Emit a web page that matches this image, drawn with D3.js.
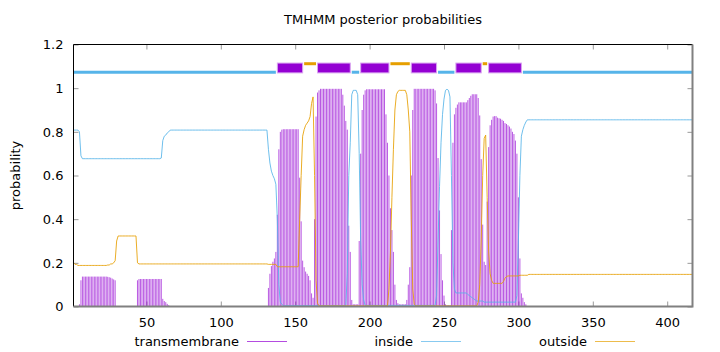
<!DOCTYPE html>
<html>
<head>
<meta charset="utf-8">
<script src="https://cdn.jsdelivr.net/npm/d3@7"></script>
<style>
  html, body { margin: 0; padding: 0; background: #fff; }
  svg { display: block; font-family: "DejaVu Sans", sans-serif; }
</style>
</head>
<body>
<div id="chart"></div>
<script>
// Posterior probabilities, stored as runs [fromResidue, toResidue, value]
const seqLength = 417;

const tmRuns = [
  [1,4,0],[5,5,0.01],[6,6,0.12],[7,23,0.137],[24,24,0.136],[25,25,0.134],[26,26,0.132],[27,27,0.128],
  [28,28,0.124],[29,29,0.12],[30,43,0],[44,44,0.12],[45,60,0.126],[61,61,0.035],[62,62,0.025],
  [63,63,0.02],[64,64,0.012],[65,65,0.006],[66,131,0],[132,132,0.085],[133,133,0.15],[134,134,0.185],
  [135,135,0.205],[136,136,0.22],[137,137,0.25],[138,138,0.42],[139,139,0.72],[140,140,0.8],
  [141,141,0.81],[142,152,0.812],[153,153,0.59],[154,154,0.39],[155,155,0.21],[156,156,0.18],
  [157,157,0.16],[158,158,0.15],[159,159,0.14],[160,160,0.12],[161,161,0.06],[162,162,0.04],
  [163,163,0.4],[164,164,0.87],[165,165,0.98],[166,166,0.99],[167,181,0.997],[182,182,0.97],
  [183,183,0.92],[184,184,0.85],[185,185,0.81],[186,186,0.37],[187,187,0.25],[188,188,0.03],
  [189,192,0.01],[193,193,0.3],[194,194,0.7],[195,195,0.9],[196,196,0.97],[197,197,0.99],
  [198,210,0.995],[211,211,0.88],[212,212,0.75],[213,213,0.6],[214,214,0.45],[215,215,0.35],
  [216,216,0.25],[217,217,0.1],[218,218,0.03],[219,219,0.015],[220,224,0.01],[225,225,0.03],
  [226,226,0.1],[227,227,0.18],[228,228,0.6],[229,229,0.9],[230,243,0.997],[244,244,0.99],
  [245,245,0.93],[246,246,0.68],[247,247,0.44],[248,248,0.24],[249,249,0.12],[250,250,0.05],
  [251,251,0.01],[252,254,0.005],[255,255,0.35],[256,256,0.75],[257,257,0.88],[258,258,0.91],
  [259,259,0.925],[260,265,0.935],[266,266,0.945],[267,267,0.955],[268,268,0.965],[269,272,0.972],
  [273,273,0.955],[274,274,0.875],[275,275,0.675],[276,276,0.375],[277,277,0.205],[278,278,0.19],
  [279,279,0.48],[280,280,0.73],[281,281,0.83],[282,282,0.855],[283,283,0.87],[284,285,0.872],
  [286,286,0.865],[287,287,0.862],[288,288,0.86],[289,289,0.855],[290,290,0.85],[291,291,0.84],
  [292,292,0.836],[293,293,0.83],[294,294,0.824],[295,295,0.815],[296,296,0.8],[297,297,0.79],
  [298,298,0.76],[299,299,0.7],[300,300,0.5],[301,301,0.22],[302,302,0.06],[303,303,0.04],
  [304,304,0.02],[305,305,0.01],[306,417,0]
];

const insideRuns = [
  [1,4,0.808],[5,5,0.80],[6,6,0.69],[7,59,0.677],[60,60,0.68],[61,61,0.76],[62,62,0.78],
  [63,63,0.785],[64,64,0.795],[65,65,0.80],[66,131,0.808],[132,132,0.72],[133,133,0.657],
  [134,134,0.62],[135,135,0.60],[136,136,0.585],[137,137,0.56],[138,138,0.40],[139,139,0.10],
  [140,140,0.02],[141,141,0.01],[142,184,0.004],[185,185,0.15],[186,186,0.6],[187,187,0.75],
  [188,188,0.97],[189,191,0.99],[192,192,0.97],[193,193,0.7],[194,194,0.3],[195,195,0.1],
  [196,196,0.03],[197,244,0.005],[245,245,0.05],[246,246,0.3],[247,247,0.55],[248,248,0.75],
  [249,249,0.88],[250,250,0.95],[251,251,0.99],[252,252,0.995],[253,253,0.99],[254,254,0.96],
  [255,255,0.6],[256,256,0.2],[257,257,0.08],[258,265,0.062],[266,266,0.055],[267,267,0.05],
  [268,268,0.045],[269,269,0.04],[270,270,0.035],[271,271,0.03],[272,276,0.025],[277,298,0.02],
  [299,299,0.05],[300,300,0.3],[301,301,0.6],[302,302,0.78],[303,303,0.81],[304,304,0.83],
  [305,305,0.845],[306,417,0.855]
];

const outsideRuns = [
  [1,1,0.2],[2,3,0.193],[4,23,0.188],[24,25,0.19],[26,27,0.195],[28,28,0.2],[29,29,0.21],
  [30,30,0.3],[31,43,0.323],[44,44,0.2],[45,131,0.195],[132,137,0.193],[138,152,0.182],
  [153,153,0.4],[154,154,0.6],[155,155,0.78],[156,156,0.81],[157,157,0.83],[158,158,0.84],
  [159,159,0.85],[160,160,0.87],[161,161,0.93],[162,162,0.96],[163,163,0.6],[164,164,0.12],
  [165,165,0.015],[166,212,0.003],[213,213,0.08],[214,214,0.25],[215,215,0.5],[216,216,0.72],
  [217,217,0.9],[218,218,0.97],[219,219,0.985],[220,224,0.99],[225,225,0.97],[226,226,0.9],
  [227,227,0.8],[228,228,0.4],[229,229,0.08],[230,230,0.01],[231,272,0.003],[273,273,0.02],
  [274,274,0.1],[275,275,0.3],[276,276,0.6],[277,277,0.77],[278,278,0.785],[279,279,0.5],
  [280,280,0.25],[281,281,0.15],[282,282,0.12],[283,289,0.106],[290,290,0.115],[291,291,0.13],
  [292,292,0.137],[293,300,0.14],[301,306,0.143],[307,417,0.147]
];

// predicted topology segments [from, to]
const insideSegments = [[1,137],[188,193],[246,257],[303,417]];
const tmSegments = [[138,155],[165,187],[194,213],[228,245],[258,275],[280,302]];
const outsideSegments = [[156,164],[214,227],[276,279]];

const xTicks = [50, 100, 150, 200, 250, 300, 350, 400];
const yTicks = [0, 0.2, 0.4, 0.6, 0.8, 1, 1.2];
const yTickLabels = ["0", "0.2", "0.4", "0.6", "0.8", "1", "1.2"];
const legendNames = ["transmembrane", "inside", "outside"];

const colors = { tm: "#9400d3", inside: "#56b4e9", outside: "#e69f00" };

// expand the runs into one value per residue
function expand(runs) {
  const out = [];
  runs.forEach(([a, b, v]) => {
    for (let r = a; r <= b; r++) out.push({ pos: r, value: v });
  });
  return out;
}
const tm = expand(tmRuns);
const inside = expand(insideRuns);
const outside = expand(outsideRuns);

const width = 720, height = 352;
const plot = { left: 73.5, right: 692.5, top: 44.5, bottom: 306.5 };

const svg = d3.select("#chart").append("svg")
  .attr("width", width)
  .attr("height", height);

const x = d3.scaleLinear().domain([1, seqLength]).range([plot.left, plot.right]);
const y = d3.scaleLinear().domain([0, 1.2]).range([plot.bottom, plot.top]);

// Title
svg.append("text")
  .attr("x", (plot.left + plot.right) / 2)
  .attr("y", 24)
  .attr("text-anchor", "middle")
  .style("font-size", "13px")
  .text("TMHMM posterior probabilities");

// Axes (ticks point inward, mirrored)
const tickColor = "#999";
const xAxis = svg.append("g")
  .attr("transform", `translate(0,${plot.bottom})`)
  .call(d3.axisBottom(x).tickValues(xTicks).tickSize(-5).tickPadding(11));
const xAxisTop = svg.append("g")
  .attr("transform", `translate(0,${plot.top})`)
  .call(d3.axisTop(x).tickValues(xTicks).tickSize(-5).tickFormat(""));
const yAxis = svg.append("g")
  .attr("transform", `translate(${plot.left},0)`)
  .call(d3.axisLeft(y).tickValues(yTicks).tickSize(-5).tickPadding(10)
    .tickFormat((d, i) => yTickLabels[i]));
const yAxisRight = svg.append("g")
  .attr("transform", `translate(${plot.right},0)`)
  .call(d3.axisRight(y).tickValues(yTicks).tickSize(-5).tickFormat(""));

[xAxis, xAxisTop, yAxis, yAxisRight].forEach(g => {
  g.select(".domain").remove();
  g.selectAll(".tick line").attr("stroke", tickColor);
  g.selectAll(".tick text")
    .attr("fill", "#000")
    .style("font-size", "13px")
    .style("font-family", "DejaVu Sans, sans-serif");
});

// Y label
svg.append("text")
  .attr("transform", `translate(20,${(plot.top + plot.bottom) / 2}) rotate(-90)`)
  .attr("text-anchor", "middle")
  .style("font-size", "13px")
  .text("probability");

// transmembrane impulses
svg.append("g")
  .selectAll("line")
  .data(tm.filter(d => d.value > 0))
  .enter()
  .append("line")
  .attr("x1", d => x(d.pos))
  .attr("x2", d => x(d.pos))
  .attr("y1", y(0))
  .attr("y2", d => y(d.value))
  .attr("stroke", colors.tm)
  .attr("stroke-opacity", 0.65)
  .attr("stroke-width", 1);

const line = d3.line().x(d => x(d.pos)).y(d => y(d.value));

svg.append("path")
  .datum(inside)
  .attr("d", line)
  .attr("fill", "none")
  .attr("stroke", colors.inside)
  .attr("stroke-opacity", 0.85)
  .attr("stroke-width", 1);

svg.append("path")
  .datum(outside)
  .attr("d", line)
  .attr("fill", "none")
  .attr("stroke", colors.outside)
  .attr("stroke-opacity", 0.85)
  .attr("stroke-width", 1);

// topology bar along the top
svg.append("g")
  .selectAll("line")
  .data(insideSegments)
  .enter()
  .append("line")
  .attr("x1", d => x(d[0]))
  .attr("x2", d => x(d[1]))
  .attr("y1", y(1.073))
  .attr("y2", y(1.073))
  .attr("stroke", colors.inside)
  .attr("stroke-width", 3);

svg.append("g")
  .selectAll("line")
  .data(outsideSegments)
  .enter()
  .append("line")
  .attr("x1", d => x(d[0]))
  .attr("x2", d => x(d[1]))
  .attr("y1", y(1.112))
  .attr("y2", y(1.112))
  .attr("stroke", colors.outside)
  .attr("stroke-width", 3);

svg.append("g")
  .selectAll("rect")
  .data(tmSegments)
  .enter()
  .append("rect")
  .attr("x", d => x(d[0]))
  .attr("width", d => x(d[1]) - x(d[0]))
  .attr("y", y(1.115))
  .attr("height", y(1.07) - y(1.115))
  .attr("fill", colors.tm)
  .attr("stroke", "#d9a3f0")
  .attr("stroke-width", 1);

// Frame
svg.append("path")
  .attr("d", `M${plot.left},${plot.bottom}V${plot.top}H${plot.right}`)
  .attr("fill", "none")
  .attr("stroke", "#000")
  .attr("stroke-width", 1);
svg.append("path")
  .attr("d", `M${plot.left},${plot.bottom}H${plot.right}V${plot.top}`)
  .attr("fill", "none")
  .attr("stroke", "#808080")
  .attr("stroke-width", 2);

// Legend
const legendColors = [colors.tm, colors.inside, colors.outside];
const legendTextEnd = [239, 413, 587];
const legend = svg.append("g");
legendNames.forEach((name, i) => {
  legend.append("text")
    .attr("x", legendTextEnd[i])
    .attr("y", 346)
    .attr("text-anchor", "end")
    .style("font-size", "13px")
    .text(name);
  legend.append("line")
    .attr("x1", legendTextEnd[i] + 8)
    .attr("x2", legendTextEnd[i] + 48)
    .attr("y1", 341.5)
    .attr("y2", 341.5)
    .attr("stroke", legendColors[i])
    .attr("stroke-opacity", 0.7)
    .attr("stroke-width", 1);
});
</script>
</body>
</html>
